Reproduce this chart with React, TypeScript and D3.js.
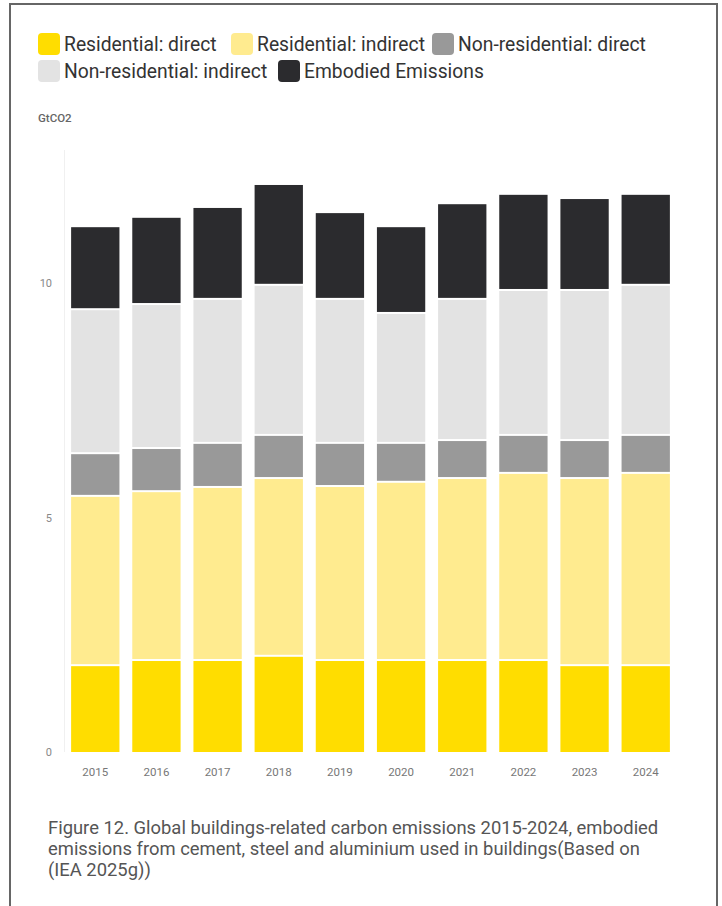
import React from "react";
import * as d3 from "d3";

const years = ["2015", "2016", "2017", "2018", "2019", "2020", "2021", "2022", "2023", "2024"];
const residentialDirect = [1.83, 1.94, 1.94, 2.03, 1.94, 1.94, 1.94, 1.94, 1.83, 1.83];
const residentialIndirect = [3.61, 3.6, 3.69, 3.79, 3.71, 3.8, 3.88, 3.99, 3.99, 4.1];
const nonResidentialDirect = [0.91, 0.92, 0.94, 0.92, 0.92, 0.83, 0.81, 0.81, 0.81, 0.81];
const nonResidentialIndirect = [3.07, 3.07, 3.07, 3.2, 3.07, 2.77, 3.01, 3.09, 3.2, 3.2];
const embodied = [1.77, 1.86, 1.96, 2.15, 1.85, 1.85, 2.04, 2.05, 1.96, 1.94];
const yTicks = [0, 5, 10];

const seriesNames = [
  "Residential: direct",
  "Residential: indirect",
  "Non-residential: direct",
  "Non-residential: indirect",
  "Embodied Emissions",
];
const seriesColors = ["#FFDD00", "#FFEB8F", "#999999", "#E3E3E3", "#2B2B2E"];

const caption = [
  "Figure 12. Global buildings-related carbon emissions 2015-2024, embodied",
  "emissions from cement, steel and aluminium used in buildings(Based on",
  "(IEA 2025g))",
];

export default function App() {
  const W = 722;
  const H = 906;
  const series = [residentialDirect, residentialIndirect, nonResidentialDirect, nonResidentialIndirect, embodied];
  const rows = years.map((y, i) => {
    const r: any = { year: y };
    seriesNames.forEach((n, k) => (r[n] = series[k][i]));
    return r;
  });
  const stacked = d3.stack().keys(seriesNames)(rows);
  const x = d3.scaleBand().domain(years).range([65, 676]).paddingInner(0.21).paddingOuter(0.1);
  const y = d3.scaleLinear().domain([0, 10]).range([752, 283]);

  const legendItems = [
    { i: 0, sx: 38, sy: 33 },
    { i: 1, sx: 231, sy: 33 },
    { i: 2, sx: 432, sy: 33 },
    { i: 3, sx: 38, sy: 60 },
    { i: 4, sx: 278, sy: 60 },
  ];

  return (
    <div style={{ position: "fixed", left: 0, top: 0, width: W, height: H, background: "#fff" }}>
      <svg width={W} height={H} style={{ display: "block", fontFamily: "Roboto, sans-serif" }}>
        <rect x={0} y={0} width={W} height={H} fill="#fff" />
        <path d={`M10,${H + 5} V4 H717 V${H + 5}`} fill="none" stroke="#666" strokeWidth={2} />
        {legendItems.map((l) => (
          <g key={l.i}>
            <rect x={l.sx} y={l.sy} width={22} height={22} rx={4} fill={seriesColors[l.i]} />
            <text x={l.sx + 26} y={l.sy + 18} fontSize={19.3} fill="#333">
              {seriesNames[l.i]}
            </text>
          </g>
        ))}
        <text x={38} y={122} fontSize={11.5} fill="#666" fontWeight={500}>
          GtCO2
        </text>
        <line x1={64.5} x2={64.5} y1={150} y2={752} stroke="#f0f0f0" />
        {yTicks.map((t) => (
          <text key={t} x={52} y={y(t) + 4} fontSize={11} fill="#888" textAnchor="end">
            {t}
          </text>
        ))}
        {stacked.map((s, k) => (
          <g key={k} fill={seriesColors[k]}>
            {s.map((d, i) => (
              <rect
                key={i}
                x={x(years[i])}
                y={y(d[1])}
                width={x.bandwidth()}
                height={Math.max(0, y(d[0]) - y(d[1]) - (k > 0 ? 2 : 0))}
              />
            ))}
          </g>
        ))}
        {years.map((yr) => (
          <text key={yr} x={(x(yr) as number) + x.bandwidth() / 2} y={776} fontSize={11.5} fill="#777" textAnchor="middle">
            {yr}
          </text>
        ))}
        {caption.map((c, i) => (
          <text key={i} x={48} y={834 + i * 21} fontSize={18.4} fill="#555">
            {c}
          </text>
        ))}
      </svg>
    </div>
  );
}
